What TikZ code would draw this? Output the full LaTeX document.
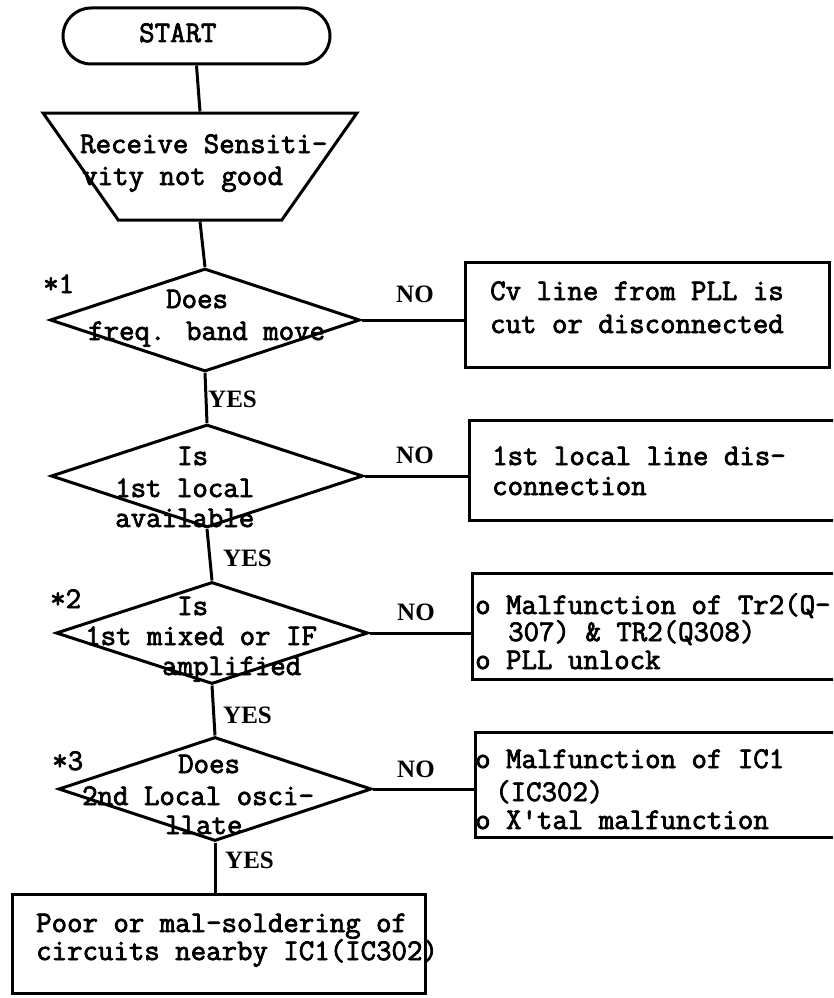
\documentclass[tikz,border=0pt]{standalone}
\usepackage{fontspec}
\usetikzlibrary{shapes.geometric}
\newfontfamily\twfont[FakeBold=2.5]{Latin Modern Mono}
\newfontfamily\ynfont{Liberation Serif}
\tikzset{
  conn/.style={line width=3pt},
  shapebox/.style={draw, line width=3pt, inner sep=0pt},
  decision/.style={shapebox, diamond, minimum width=#1},
  txt/.style={anchor=base west, inner sep=0pt, font=\twfont\fontsize{30}{34}\selectfont},
  yn/.style={anchor=base west, inner sep=0pt, font=\ynfont\bfseries\fontsize{25}{29}\selectfont},
}
\begin{document}
\begin{tikzpicture}[x=1pt, y=-1pt]
\clip (0,0) rectangle (833,998);
\fill[white] (0,0) rectangle (833,998);

% flow shapes
\node[shapebox, rounded corners=28pt, minimum width=267pt, minimum height=56pt] (start) at (196.5,36) {};
\node[shapebox, inner sep=2pt, trapezium, trapezium angle=64, shape border rotate=180,
      trapezium stretches=true, minimum width=314pt, minimum height=107pt] (recv) at (200,166.5) {\phantom{X}};
\node[decision=310pt, minimum height=103pt] (d1) at (205,320) {};
\node[decision=312pt, minimum height=103pt] (d2) at (207,476) {};
\node[decision=312pt, minimum height=102pt] (d3) at (212,633) {};
\node[decision=313pt, minimum height=104pt] (d4) at (215,789) {};

% result boxes (the right ones run past the page edge)
\node[shapebox, minimum width=364pt, minimum height=105pt] (b1) at (647,314.5) {};
\node[shapebox, minimum width=380pt, minimum height=100pt] (b2) at (659,470) {};
\node[shapebox, minimum width=380pt, minimum height=106pt] (b3) at (662,626) {};
\node[shapebox, minimum width=380pt, minimum height=105pt] (b4) at (665,784.5) {};
\node[shapebox, minimum width=413pt, minimum height=99pt] (b5) at (218.5,943.5) {};

% connectors
\draw[conn] (start.south) -- (recv.north);
\draw[conn] (recv.south) -- (d1.north);
\draw[conn] (d1.south) -- (d2.north);
\draw[conn] (d2.south) -- (d3.north);
\draw[conn] (d3.south) -- (d4.north);
\draw[conn] (d4.south) -- (d4.south |- b5.north);
\draw[conn] (d1.east) -- (d1.east -| b1.west);
\draw[conn] (d2.east) -- (d2.east -| b2.west);
\draw[conn] (d3.east) -- (d3.east -| b3.west);
\draw[conn] (d4.east) -- (d4.east -| b4.west);

% texts
\node[txt] (tstart) at (139,42) {START};
\node[txt] (trA) at (80,153) {Receive Sensiti-};
\node[txt] (trB) at (82,185) {vity not good};

\node[txt] (m1) at (43,293) {*1};
\node[txt] (d1a) at (166,308) {Does};
\node[txt] (d1b) at (88,340) {freq. band move};

\node[txt] (d2a) at (177,465) {Is};
\node[txt] (d2b) at (115,497) {1st local};
\node[txt] (d2c) at (115,527) {available};

\node[txt] (m2) at (50,608) {*2};
\node[txt] (d3a) at (177,615) {Is};
\node[txt] (d3b) at (85,645) {1st mixed or IF};
\node[txt] (d3c) at (162,675) {amplified};

\node[txt] (m3) at (52,770) {*3};
\node[txt] (d4a) at (178,773) {Does};
\node[txt] (d4b) at (82,805) {2nd Local osci-};
\node[txt] (d4c) at (165,834) {llate};

\node[yn] (y1) at (208,407) {YES};
\node[yn] (y2) at (223,566) {YES};
\node[yn] (y3) at (223,723) {YES};
\node[yn] (y4) at (225,868) {YES};
\node[yn] (n1) at (396,302) {NO};
\node[yn] (n2) at (396,463) {NO};
\node[yn] (n3) at (397,620) {NO};
\node[yn] (n4) at (397,777) {NO};

\node[txt] (b1a) at (490,300) {Cv line from PLL is};
\node[txt] (b1b) at (490,333) {cut or disconnected};
\node[txt] (b2a) at (492,465) {1st local line dis-};
\node[txt] (b2b) at (492,495) {connection};
\node[txt] (b3a) at (475,614) {o Malfunction of Tr2(Q-};
\node[txt] (b3b) at (508,641) {307) \& TR2(Q308)};
\node[txt] (b3c) at (475,669) {o PLL unlock};
\node[txt] (b4a) at (475,768) {o Malfunction of IC1};
\node[txt] (b4b) at (495,801) {(IC302)};
\node[txt] (b4c) at (475,829) {o X'tal malfunction};
\node[txt] (b5a) at (36,932) {Poor or mal-soldering of};
\node[txt] (b5b) at (36,960) {circuits nearby IC1(IC302)};
\end{tikzpicture}
\end{document}
